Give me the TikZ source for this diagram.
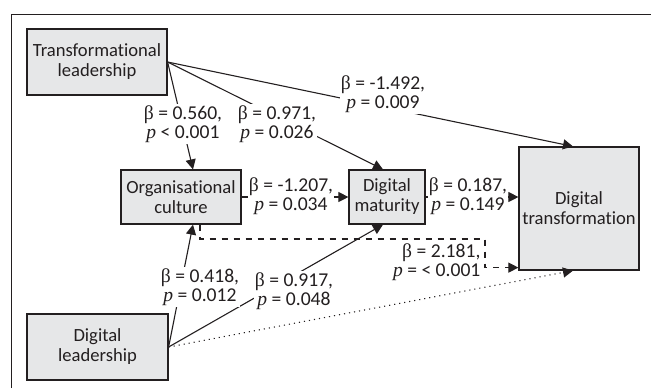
\documentclass[tikz,border=0pt]{standalone}
\usepackage{fontspec}
\setmainfont{Carlito}[Ligatures=NoCommon]
\newfontfamily\serifgr{Liberation Serif}
\usepackage{tikz}
\definecolor{boxgray}{RGB}{230, 231, 232}
\definecolor{linegray}{RGB}{35, 31, 32}
\usetikzlibrary{
  arrows.meta,
  calc,
  positioning,
}
\tikzset{
  >={Triangle[length=5pt,width=5pt]},
  varbox/.style={draw=linegray,line width=0.6pt,rectangle,fill=boxgray,align=center,
    inner sep=0pt,font=\fontsize{9.3}{10}\selectfont},
  coef/.style={fill=white,inner sep=0.6pt,align=center,
    font=\fontsize{9.8}{9.6}\selectfont},
  path/.style={draw=linegray,line width=0.55pt},
}
\newcommand{\bt}{{\serifgr β}}
\newcommand{\pv}{{\serifgr\itshape p}}

\begin{document}
\begin{tikzpicture}[x=0.5pt,y=-0.5pt,text=linegray]
  \useasboundingbox (0,0) rectangle (651,388);
  \draw[linegray,line width=0.5pt] (11,388) -- (11,14) -- (651,14);

  \node[varbox,minimum width=70pt,minimum height=33pt] (tl) at (97,62)  {Transformational\\leadership};
  \node[varbox,minimum width=60pt,minimum height=27pt] (oc) at (181,197) {Organisational\\culture};
  \node[varbox,minimum width=38pt,minimum height=27pt] (dm) at (387,197) {Digital\\maturity};
  \node[varbox,minimum width=60pt,minimum height=61.5pt] (dt) at (579,208.5) {Digital\\transformation};
  \node[varbox,minimum width=70.5pt,minimum height=33pt] (dl) at (97.5,347) {Digital\\leadership};

  \coordinate (bend) at (485,239);

  \draw[path,->] (tl.east) -- ([xshift=6pt]oc.north);
  \draw[path,->] (tl.east) -- ([xshift=-2pt]dm.north);
  \draw[path,->] (tl.east) -- ([xshift=-3pt]dt.north);
  \draw[path,->] (oc.east) -- (dm.west);
  \draw[path,->] (dm.east) -- (dm.east -| dt.west);
  \draw[path,->] (dl.east) -- ([xshift=6pt]oc.south);
  \draw[path,->] (dl.east) -- ([xshift=-2pt]dm.south);
  \draw[path,dashed,->] ([xshift=9.5pt]oc.south) |- (bend) |- ([yshift=1.5pt]dt.south west);
  \draw[path,dotted,->] (dl.east) -- ([xshift=-3pt]dt.south);

  \node[coef] (c1) at (183,124) {\bt{} = 0.560,\\\pv{} < 0.001};
  \node[coef] (c2) at (277,124) {\bt{} = 0.971,\\\pv{} = 0.026};
  \node[coef] (c3) at (383,94)  {\bt{} = -1.492,\\\pv{} = 0.009};
  \node[coef] (c4) at (291,196) {\bt{} = -1.207,\\\pv{} = 0.034};
  \node[coef] (c5) at (468,196) {\bt{} = 0.187,\\\pv{} = 0.149};
  \node[coef] (c6) at (200,287) {\bt{} = 0.418,\\\pv{} = 0.012};
  \node[coef] (c7) at (294,291) {\bt{} = 0.917,\\\pv{} = 0.048};
  \node[coef,align=right,anchor=east] (c8) at (482,262) {\bt{} = 2.181,\\\pv{} = < 0.001};
\end{tikzpicture}
\end{document}
